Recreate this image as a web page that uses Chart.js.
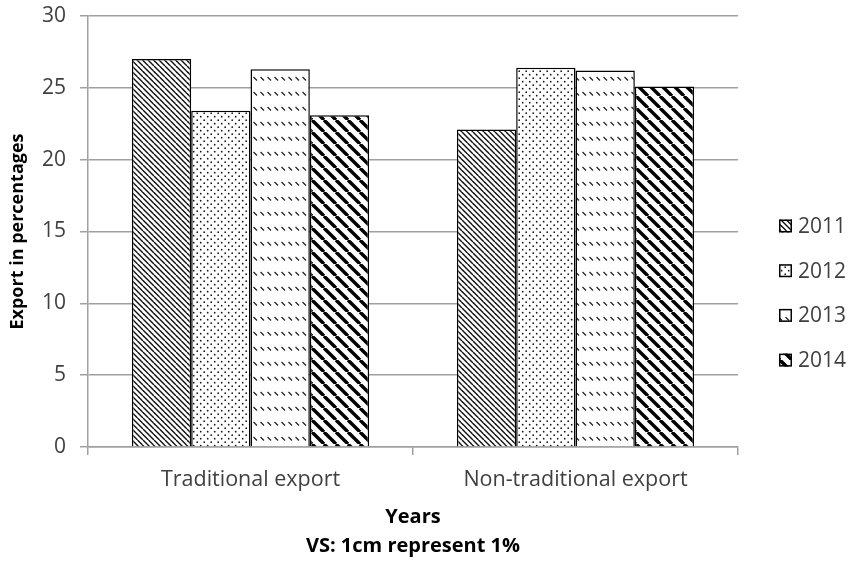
<!DOCTYPE html>
<html>
<head>
<meta charset="utf-8">
<script src="https://cdn.jsdelivr.net/npm/chart.js@4/dist/chart.umd.min.js"></script>
<style>
html,body{margin:0;padding:0;background:#fff;}
#wrap{width:849px;height:561px;position:relative;}
</style>
</head>
<body>
<div id="wrap"><canvas id="c" width="849" height="561"></canvas></div>
<script>
// ---- data ----
const categories = ['Traditional export', 'Non-traditional export'];
const seriesNames = ['2011', '2012', '2013', '2014'];
const values2011 = [27.0, 22.1];
const values2012 = [23.4, 26.4];
const values2013 = [26.3, 26.2];
const values2014 = [23.1, 25.1];
const yMin = 0, yMax = 30, yStep = 5;
const yTitle = 'Export in percentages';
const xTitle = ['Years', 'VS: 1cm represent 1%'];

// ---- patterns ----
function tile(w, h, draw) {
  const c = document.createElement('canvas');
  c.width = w; c.height = h;
  const g = c.getContext('2d');
  g.fillStyle = '#fff'; g.fillRect(0, 0, w, h);
  draw(g, w, h);
  return c;
}
function diag(g, size, gap, lw, color) {
  g.strokeStyle = color; g.lineWidth = lw;
  for (let off = -2 * size; off <= 2 * size; off += gap) {
    g.beginPath(); g.moveTo(off, 0); g.lineTo(off + size, size); g.stroke();
  }
}
const ctxMain = document.getElementById('c').getContext('2d');
const pat2011 = ctxMain.createPattern(tile(11, 11, (g) => diag(g, 11, 5.5, 1.4, '#111')), 'repeat');
const pat2012 = ctxMain.createPattern(tile(7, 7, (g) => {
  g.fillStyle = '#111';
  g.beginPath(); g.arc(1.2, 1.2, 0.85, 0, Math.PI * 2); g.fill();
  g.beginPath(); g.arc(4.7, 4.7, 0.85, 0, Math.PI * 2); g.fill();
}), 'repeat');
const pat2013 = ctxMain.createPattern(tile(7, 15, (g) => {
  g.strokeStyle = '#222'; g.lineWidth = 1.2;
  g.beginPath(); g.moveTo(1.5, 2); g.lineTo(5, 5.5); g.stroke();
}), 'repeat');
const pat2014 = ctxMain.createPattern(tile(12, 12, (g) => diag(g, 12, 12, 3.4, '#000')), 'repeat');
const patterns = [pat2011, pat2012, pat2013, pat2014];

const FONT = "'Open Sans', 'Liberation Sans', sans-serif";

const legendPlugin = {
  id: 'sideLegend',
  afterDraw(chart) {
    const g = chart.ctx;
    const x0 = chart.chartArea.right + 41;
    const yStart = 226, gapY = 44.7;
    g.save();
    chart.data.datasets.forEach((ds, i) => {
      const cy = yStart + i * gapY;
      g.fillStyle = ds.backgroundColor;
      g.fillRect(x0, cy - 6.5, 13, 13);
      g.strokeStyle = '#000'; g.lineWidth = 1.5;
      g.strokeRect(x0 + 0.75, cy - 5.75, 11.5, 11.5);
      g.fillStyle = '#404040';
      g.font = '21px ' + FONT;
      g.textBaseline = 'middle'; g.textAlign = 'left';
      g.fillText(ds.label, x0 + 19, cy + 1);
    });
    g.restore();
  }
};

const values = [values2011, values2012, values2013, values2014];
new Chart(document.getElementById('c'), {
  type: 'bar',
  data: {
    labels: categories,
    datasets: seriesNames.map((n, i) => ({
      label: n,
      data: values[i],
      backgroundColor: patterns[i],
      borderColor: '#000',
      borderWidth: 1.5,
      categoryPercentage: 0.73,
      barPercentage: 1.0
    }))
  },
  options: {
    responsive: false,
    animation: false,
    devicePixelRatio: 1,
    layout: { padding: { top: 16, right: 111, left: 0, bottom: 0 } },
    plugins: { legend: { display: false }, tooltip: { enabled: false } },
    scales: {
      x: {
        offset: true,
        grid: { offset: true, drawOnChartArea: false, drawTicks: true, tickLength: 8, color: '#a0a0a0', lineWidth: 1.5 },
        border: { color: '#a0a0a0', width: 1.5 },
        ticks: { color: '#404040', font: { family: FONT, size: 21.5 }, padding: 12, maxRotation: 0 },
        title: { display: true, text: xTitle, color: '#000', font: { family: FONT, size: 20, weight: 'bold', lineHeight: 1.42 }, padding: { top: 0, bottom: 1 } },
        afterFit(scale) { scale.height = 114; scale.paddingLeft = 0; scale.paddingRight = 0; }
      },
      y: {
        min: yMin, max: yMax,
        ticks: { stepSize: yStep, color: '#404040', font: { family: FONT, size: 21 }, padding: 14 },
        grid: { color: '#a0a0a0', lineWidth: 1.5, tickLength: 8 },
        border: { color: '#a0a0a0', width: 1.5 },
        title: { display: true, text: yTitle, color: '#000', font: { family: FONT, size: 18, weight: 'bold' }, padding: { top: 7, bottom: 0 } },
        afterFit(scale) { scale.width = 88; scale.paddingTop = 0; scale.paddingBottom = 0; }
      }
    }
  },
  plugins: [legendPlugin]
});
</script>
</body>
</html>
